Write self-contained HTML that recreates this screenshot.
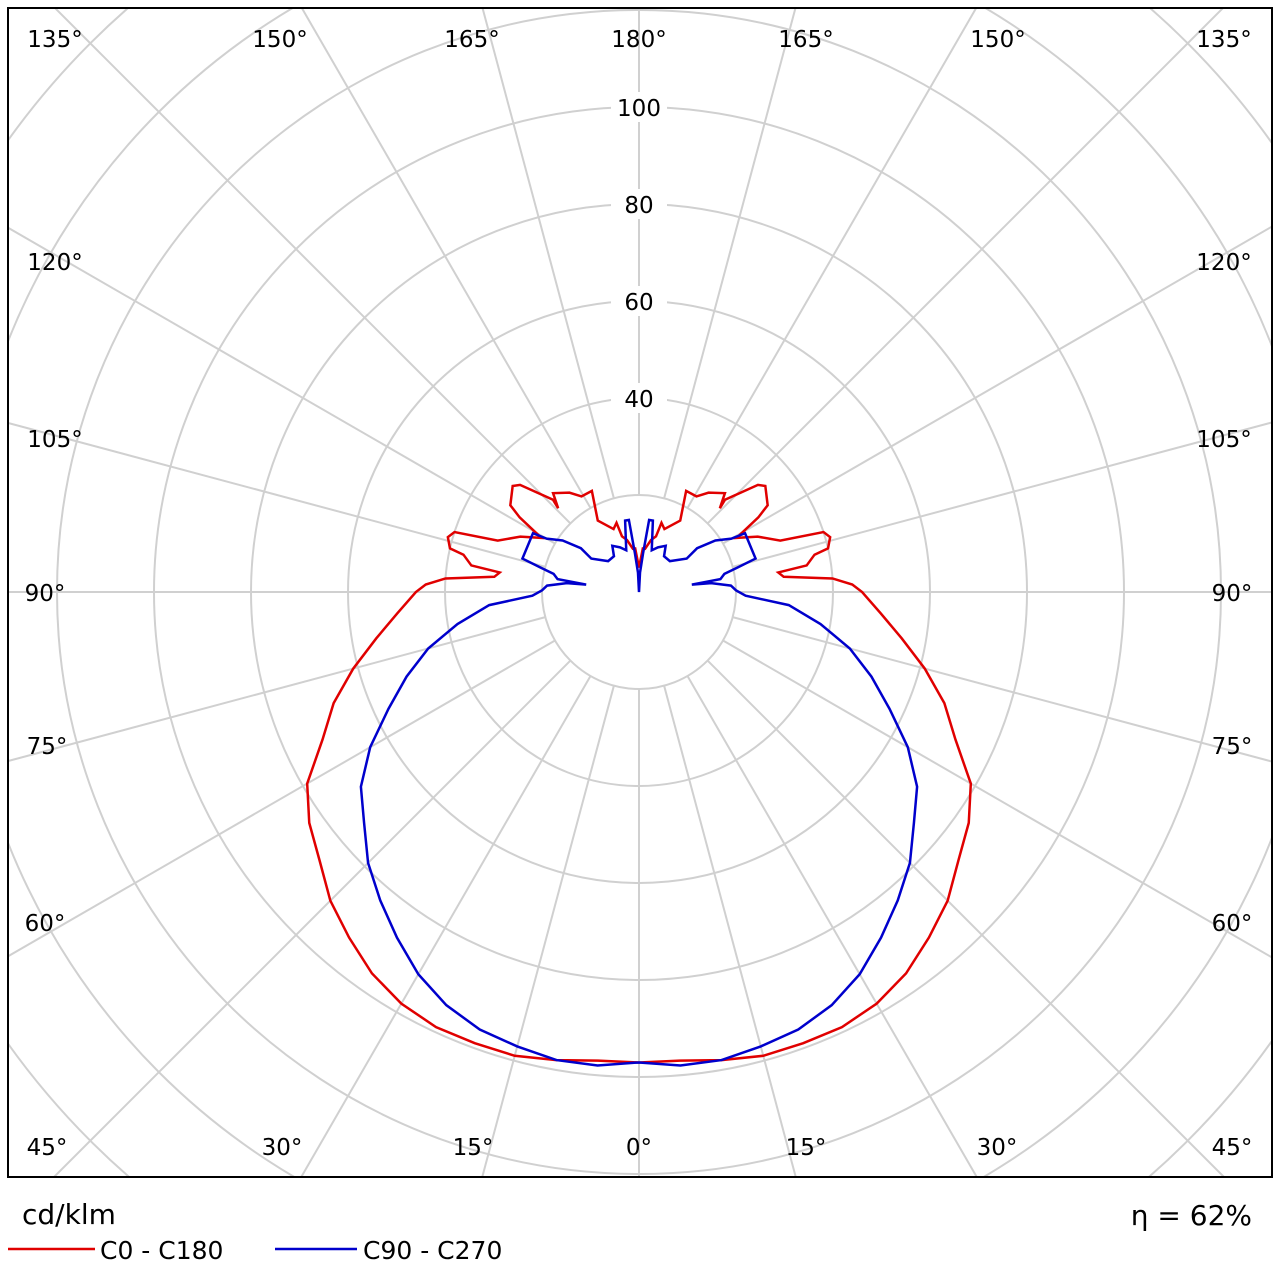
<!DOCTYPE html>
<html><head><meta charset="utf-8"><style>
html,body{margin:0;padding:0;background:#fff;width:1280px;height:1280px;overflow:hidden;}
svg{display:block;font-family:"DejaVu Sans","Liberation Sans",sans-serif;}
</style></head><body>
<svg id="chart" width="1280" height="1280" viewBox="0 0 1280 1280">
<defs><clipPath id="plotclip"><rect x="8" y="8" width="1264" height="1169"/></clipPath></defs>
<rect x="0" y="0" width="1280" height="1280" fill="#fff"/>
<g id="grid" clip-path="url(#plotclip)"></g>
<g id="series" clip-path="url(#plotclip)"></g>
<g id="labels"></g>
<rect x="8" y="8" width="1264" height="1169" fill="none" stroke="#000" stroke-width="2"/>
<text x="22" y="1224" font-size="28" fill="#000">cd/klm</text>
<line x1="8" y1="1249" x2="95" y2="1249" stroke="#e00000" stroke-width="2.5"/>
<text x="100" y="1259" font-size="25" fill="#000">C0 - C180</text>
<line x1="275" y1="1249" x2="357" y2="1249" stroke="#0000cc" stroke-width="2.5"/>
<text x="363" y="1259" font-size="25" fill="#000">C90 - C270</text>
<text x="1252" y="1225" font-size="28" fill="#000" text-anchor="end">η = 62%</text>
</svg>
<script>
const ringValues=[20,40,60,80,100,120,140,160,180];
const radialTickLabels=[40,60,80,100];
const spokeAngles=[0,15,30,45,60,75,90,105,120,135,150,165,180];
const c0Angles=[0,5,10,15,20,25,30,35,40,45,50,55,60,65,70,75,80,85,90,92,94,96,98,99,102,103,106,108,110,115,119,122,124,130,132,137,136,139,145,149,155,150,158,162,163,167,172,175,180];
const c0Values=[97,97,98,99,99,99,98,96,93,90,86,83,79,72,67,61,55,50,46,44,40,30,29,35,37,40,41,40,31,27,23,29,32,34,33,26,24,27,25,23,23,17,14,15,12,11,9,9,5];
const c90Angles=[0,5,10,15,20,25,30,35,40,45,50,55,60,65,70,75,80,85,88,91,94,97,98,99,102,104,106,119,120,124,127,125,135,145,150,157,163,169,172,174,177,180];
const c90Values=[97,98,98,97,96,94,91,87,83,79,74,70,64,57,51,45,38,31,22,20,19,15,11,17,18,21,25,25,22,19,15,12,9,9,11,10,9,15,15,8,4,0];
const cx=639, cy=592, k=4.85;
const ns="http://www.w3.org/2000/svg";
function rs(v){return v*k;}
function px(r,deg,side){return cx+side*rs(r)*Math.sin(deg*Math.PI/180);}
function py(r,deg){return cy+rs(r)*Math.cos(deg*Math.PI/180);}
const grid=document.getElementById('grid');
ringValues.forEach(v=>{
 const c=document.createElementNS(ns,'circle');
 
 
 c.setAttribute('cx',cx);c.setAttribute('cy',cy);c.setAttribute('r',rs(v));
 c.setAttribute('fill','none');c.setAttribute('stroke','#d0d0d0');c.setAttribute('stroke-width','2');
 grid.appendChild(c);
});
[-1,1].forEach(side=>spokeAngles.forEach(a=>{
 const l=document.createElementNS(ns,'line');
 
 
 l.setAttribute('x1',px(20,a,side));l.setAttribute('y1',py(20,a));
 l.setAttribute('x2',px(400,a,side));l.setAttribute('y2',py(400,a));
 l.setAttribute('stroke','#d0d0d0');l.setAttribute('stroke-width','2');
 grid.appendChild(l);
}));
function curve(angs,vals,color,name){
 const pts=[];
 for(let i=vals.length-1;i>=0;i--)pts.push(px(vals[i],angs[i],-1)+','+py(vals[i],angs[i]));
 for(let i=1;i<vals.length;i++)pts.push(px(vals[i],angs[i],1)+','+py(vals[i],angs[i]));
 const p=document.createElementNS(ns,'polyline');
 
 
 p.setAttribute('points',pts.join(' '));
 p.setAttribute('fill','none');p.setAttribute('stroke',color);p.setAttribute('stroke-width','2.5');
 p.setAttribute('stroke-linejoin','miter');
 document.getElementById('series').appendChild(p);
}
curve(c0Angles,c0Values,'#e00000','series-c0-c180');
curve(c90Angles,c90Values,'#0000cc','series-c90-c270');
const lab=document.getElementById('labels');
function txt(x,y,s,name,bg){
 if(bg){const r=document.createElementNS(ns,'rect');
  r.setAttribute('x',x-28);r.setAttribute('y',y-24);r.setAttribute('width',56);r.setAttribute('height',30);r.setAttribute('fill','#fff');lab.appendChild(r);}
 const t=document.createElementNS(ns,'text');
 
 
 t.setAttribute('x',x);t.setAttribute('y',y);t.setAttribute('font-size','23');t.setAttribute('text-anchor','middle');t.setAttribute('fill','#000');
 t.textContent=s;lab.appendChild(t);
}
radialTickLabels.forEach(v=>txt(cx,cy-rs(v)+9,String(v),'radial-tick-'+v,true));
const angleLabels=[["135°",55,47],["150°",280,47],["165°",472,47],["180°",639,47],["165°",806,47],["150°",998,47],["135°",1224,47],
["120°",55,270],["105°",55,447],["90°",45,601],["75°",47,754],["60°",45,931],["45°",47,1155],
["120°",1224,270],["105°",1224,447],["90°",1232,601],["75°",1232,754],["60°",1232,931],["45°",1232,1155],
["30°",282,1155],["15°",473,1155],["0°",639,1155],["15°",806,1155],["30°",997,1155]];
angleLabels.forEach(a=>txt(a[1],a[2],a[0],'angle-label-'+a[0].replace('°',''),false));
</script>
</body></html>
